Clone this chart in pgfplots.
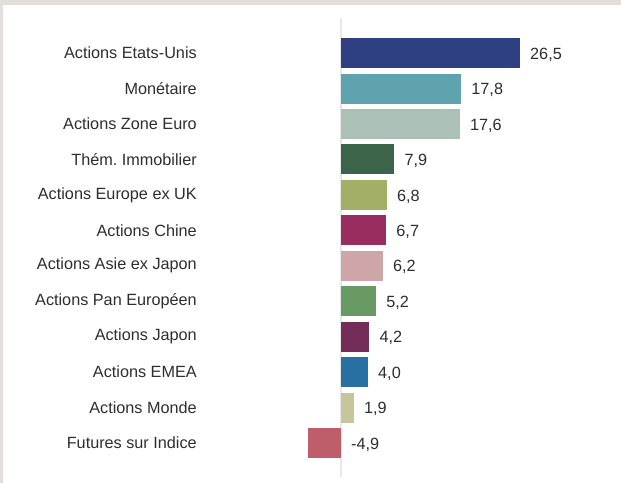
\documentclass[border=0pt]{standalone}
\usepackage{pgfplots}
\pgfplotsset{compat=1.18}
\usepackage{fontspec}
\setmainfont{Liberation Sans}
\frenchspacing
\definecolor{c1}{HTML}{2E3F82}
\definecolor{c2}{HTML}{5FA3AF}
\definecolor{c3}{HTML}{ABC0B6}
\definecolor{c4}{HTML}{3C6449}
\definecolor{c5}{HTML}{A3AF66}
\definecolor{c6}{HTML}{992D5F}
\definecolor{c7}{HTML}{CFA6A7}
\definecolor{c8}{HTML}{6A9A63}
\definecolor{c9}{HTML}{742D58}
\definecolor{c10}{HTML}{2870A1}
\definecolor{c11}{HTML}{C6C69D}
\definecolor{c12}{HTML}{BE5E6B}
\definecolor{txt}{HTML}{2E2E2E}
\definecolor{band}{HTML}{E3DED9}
\definecolor{zline}{HTML}{E8E8E8}
\begin{document}
\begin{tikzpicture}
\useasboundingbox (0,0) rectangle (621bp,483bp);
\fill[white] (0,0) rectangle (621bp,483bp);
\fill[band] (0,478bp) rectangle (621bp,483bp);
\fill[band] (0,0) rectangle (3bp,483bp);
\begin{axis}[
  at={(300.47bp,6.3bp)}, anchor=south west,
  scale only axis, width=297.22bp, height=459.08bp,
  xmin=-6, xmax=38, ymin=-1, ymax=11.95, y dir=reverse,
  enlargelimits=false,
  axis line style={draw=none},
  xtick=\empty,
  ytick={0,1,2,3,4,5,6,7,8,9,10,11},
  yticklabels={Actions Etats-Unis,Monétaire,Actions Zone Euro,Thém. Immobilier,Actions Europe ex UK,Actions Chine,Actions Asie ex Japon,Actions Pan Européen,Actions Japon,Actions EMEA,Actions Monde,Futures sur Indice},
  major tick length=0pt,
  yticklabel style={anchor=east, inner sep=0pt, xshift=-103.5bp, text=txt, font=\fontsize{16.3}{19}\selectfont},
  xbar, bar width=30bp, bar shift=0pt,
  clip=false,
]
\draw[zline, line width=1.5bp] (axis cs:0,-1) -- (axis cs:0,11.95);
\addplot[fill=c1, draw=none] coordinates {(26.5,0)};
\addplot[fill=c2, draw=none] coordinates {(17.8,1)};
\addplot[fill=c3, draw=none] coordinates {(17.6,2)};
\addplot[fill=c4, draw=none] coordinates {(7.9,3)};
\addplot[fill=c5, draw=none] coordinates {(6.8,4)};
\addplot[fill=c6, draw=none] coordinates {(6.7,5)};
\addplot[fill=c7, draw=none] coordinates {(6.2,6)};
\addplot[fill=c8, draw=none] coordinates {(5.2,7)};
\addplot[fill=c9, draw=none] coordinates {(4.2,8)};
\addplot[fill=c10, draw=none] coordinates {(4.0,9)};
\addplot[fill=c11, draw=none] coordinates {(1.9,10)};
\addplot[fill=c12, draw=none] coordinates {(-4.9,11)};
\addplot[draw=none, xbar=0pt, bar width=0pt, fill=none, point meta=explicit symbolic,
  nodes near coords, nodes near coords align={horizontal},
  every node near coord/.append style={anchor=west, inner sep=0pt, xshift=10bp, yshift=-1.5bp, text=txt, font=\fontsize{16.3}{19}\selectfont}]
  coordinates {(26.5,0) [26,5] (17.8,1) [17,8] (17.6,2) [17,6] (7.9,3) [7,9] (6.8,4) [6,8] (6.7,5) [6,7] (6.2,6) [6,2] (5.2,7) [5,2] (4.2,8) [4,2] (4.0,9) [4,0] (1.9,10) [1,9] (0,11) [-4,9]};
\end{axis}
\end{tikzpicture}
\end{document}
